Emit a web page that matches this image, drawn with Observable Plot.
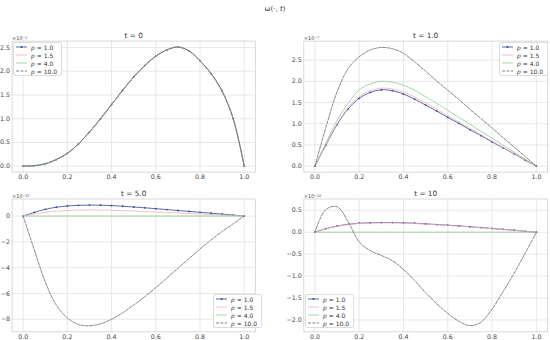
<!DOCTYPE html>
<html><head><meta charset="utf-8">
<script src="https://cdn.jsdelivr.net/npm/d3@7"></script>
<script src="https://cdn.jsdelivr.net/npm/@observablehq/plot@0.6"></script>
<style>
body{margin:0;background:#fff;font-family:"DejaVu Sans",sans-serif;}
#root{position:relative;width:550px;height:340px;overflow:hidden;background:#fff;}
.panel{position:absolute;}
.maintitle{position:absolute;left:0;width:550px;text-align:center;top:5px;font-size:7px;color:#333;}
.legend{position:absolute;background:#fff;border:0.8px solid #ddd;border-radius:2px;padding:0 4px 0 2px;font-size:6px;color:#333;}
.legend .row{height:8px;display:flex;align-items:center;white-space:nowrap;}
.legend svg{margin-right:4px;}
</style></head><body><div id="root"></div>
<script>
// ---- data ----
const xs = [0,0.05,0.1,0.15,0.2,0.25,0.3,0.35,0.4,0.45,0.5,0.55,0.6,0.65,0.7,0.75,0.8,0.85,0.9,0.95,1.0];
const pLabels = ["1.0","1.5","4.0","10.0"];
const xTicks = [0,0.2,0.4,0.6,0.8,1.0];

// t = 0 (all p coincide), x 1e-1
const t0_all = [0,0.01,0.05,0.14,0.27,0.47,0.72,1.0,1.30,1.60,1.88,2.12,2.32,2.45,2.51,2.43,2.22,1.95,1.58,1.0,0];
// t = 1.0, x 1e-7
const t1_p1  = [0,0.5,0.98,1.35,1.6,1.74,1.8,1.78,1.70,1.58,1.44,1.30,1.15,1.01,0.86,0.72,0.57,0.43,0.29,0.14,0];
const t1_p15 = [0,0.51,1.0,1.38,1.64,1.78,1.84,1.82,1.75,1.63,1.49,1.34,1.19,1.04,0.89,0.74,0.59,0.44,0.3,0.15,0];
const t1_p4  = [0,0.55,1.08,1.48,1.80,1.94,2.0,1.98,1.91,1.79,1.64,1.48,1.32,1.15,0.99,0.82,0.66,0.49,0.33,0.16,0];
const t1_p10 = [0,0.92,1.75,2.3,2.58,2.74,2.8,2.77,2.66,2.46,2.24,2.01,1.79,1.57,1.34,1.12,0.9,0.67,0.45,0.22,0];
// t = 5.0, x 1e-10
const t5_p1  = [0,0.28,0.52,0.68,0.78,0.83,0.85,0.84,0.81,0.76,0.70,0.64,0.57,0.5,0.43,0.36,0.29,0.22,0.15,0.07,0];
const t5_p15 = [0,0.15,0.29,0.37,0.43,0.46,0.47,0.46,0.45,0.42,0.39,0.35,0.31,0.28,0.24,0.2,0.16,0.12,0.08,0.04,0];
const t5_p4  = [0,0,0,0,0,0,0,0,0,0,0,0,0,0,0,0,0,0,0,0,0];
const t5_p10 = [0,-2.6,-5.1,-6.9,-7.9,-8.4,-8.5,-8.35,-8.0,-7.5,-6.9,-6.25,-5.55,-4.8,-4.05,-3.3,-2.55,-1.85,-1.2,-0.6,0];
// t = 10, x 1e-12
const t10_p1  = [0,0.08,0.14,0.18,0.205,0.215,0.22,0.22,0.215,0.205,0.19,0.175,0.16,0.145,0.125,0.105,0.085,0.065,0.045,0.02,0];
const t10_p15 = [0,0.078,0.136,0.175,0.2,0.21,0.214,0.214,0.209,0.2,0.185,0.17,0.155,0.14,0.121,0.102,0.082,0.063,0.044,0.02,0];
const t10_p4  = [0,0,0,0,0,0,0,0,0,0,0,0,0,0,0,0,0,0,0,0,0];
const t10_p10 = [0,0.52,0.58,0.24,-0.22,-0.42,-0.53,-0.65,-0.85,-1.1,-1.38,-1.63,-1.85,-2.03,-2.13,-2.05,-1.75,-1.35,-0.93,-0.47,0];

const colors = ["#34429a","#f4b0b7","#8fce92","#666666"];
const dashes = [null,null,null,"3,1.4"];

const fmt1 = d => (d < 0 ? "\u2212" : "") + Math.abs(d).toFixed(1);
const fmt0 = d => (d < 0 ? "\u2212" : "") + Math.abs(d).toFixed(0);

const root = document.getElementById("root");
const mt = document.createElement("div");
mt.className = "maintitle";
mt.innerHTML = "\u03c9(\u00b7, <i>t</i>)";
root.appendChild(mt);

function panel(cfg) {
  const {left, top, width, height, box, yDomain, yTicks, yFmt, title, expo, series, legend} = cfg;
  const marks = [
    Plot.gridX(xTicks, {stroke: "#dedede", strokeOpacity: 1, strokeWidth: 0.7}),
    Plot.gridY(yTicks, {stroke: "#dedede", strokeOpacity: 1, strokeWidth: 0.7}),
    Plot.frame({stroke: "#cfcfcf", strokeWidth: 0.8}),
    Plot.axisX(xTicks, {tickFormat: fmt1, tickSize: 0, tickPadding: 2.5, fill: "#444", label: null}),
    Plot.axisY(yTicks, {tickFormat: yFmt, tickSize: 0, tickPadding: 2, fill: "#444", label: null})
  ];
  series.forEach((vals, k) => {
    const rows = xs.map((x, i) => ({x, y: vals[i]}));
    marks.push(Plot.line(rows, {x: "x", y: "y", stroke: colors[k], strokeWidth: 0.8,
      strokeDasharray: dashes[k], curve: "catmull-rom"}));
    if (k === 0) marks.push(Plot.dot(rows, {x: "x", y: "y", r: 0.9, fill: colors[k], stroke: "none"}));
  });
  marks.push(Plot.text([title], {frameAnchor: "top", dy: -3.5, fontSize: 7.3, fill: "#333", lineAnchor: "bottom"}));
  marks.push(Plot.text([expo], {frameAnchor: "top-left", dy: -1.5, dx: 0, fontSize: 5, fill: "#444", lineAnchor: "bottom", textAnchor: "start"}));
  const svg = Plot.plot({
    width, height,
    marginLeft: box[0] - left, marginRight: left + width - box[1],
    marginTop: box[2] - top, marginBottom: top + height - box[3],
    style: {fontFamily: "DejaVu Sans, sans-serif", fontSize: "6.3px", color: "#444", background: "transparent", overflow: "visible"},
    x: {domain: [-0.05, 1.05], axis: null},
    y: {domain: yDomain, axis: null},
    marks
  });
  const wrap = document.createElement("div");
  wrap.className = "panel";
  wrap.style.left = left + "px";
  wrap.style.top = top + "px";
  wrap.appendChild(svg);
  root.appendChild(wrap);

  const lg = document.createElement("div");
  lg.className = "legend";
  lg.style.left = legend[0] + "px";
  lg.style.top = legend[1] + "px";
  pLabels.forEach((lab, k) => {
    const row = document.createElement("div");
    row.className = "row";
    const dash = dashes[k] ? `stroke-dasharray="${dashes[k]}"` : "";
    const dot = k === 0 ? `<circle cx="5.5" cy="3" r="1" fill="${colors[0]}"/>` : "";
    row.innerHTML = `<svg width="11" height="6"><line x1="0" y1="3" x2="11" y2="3" stroke="${colors[k]}" stroke-width="0.8" ${dash}/>${dot}</svg><span><i>p</i> = ${lab}</span>`;
    lg.appendChild(row);
  });
  root.appendChild(lg);
}

panel({left: 0, top: 26, width: 265, height: 160, box: [11.6, 254.8, 40.6, 171.6],
  yDomain: [-0.125, 2.636], yTicks: [0,0.5,1.0,1.5,2.0,2.5], yFmt: fmt1,
  title: "t = 0", expo: "\u00d710\u207b\u00b9",
  series: [t0_all, t0_all, t0_all, t0_all], legend: [13, 42]});

panel({left: 275, top: 26, width: 275, height: 160, box: [303.3, 547, 40.6, 171.6],
  yDomain: [-0.14, 2.95], yTicks: [0,0.5,1.0,1.5,2.0,2.5], yFmt: fmt1,
  title: "t = 1.0", expo: "\u00d710\u207b\u2077",
  series: [t1_p1, t1_p15, t1_p4, t1_p10], legend: [499, 42]});

panel({left: 0, top: 184, width: 265, height: 156, box: [11.6, 254.8, 198.5, 331.3],
  yDomain: [-8.97, 1.32], yTicks: [-8,-6,-4,-2,0], yFmt: fmt0,
  title: "t = 5.0", expo: "\u00d710\u207b\u00b9\u2070",
  series: [t5_p1, t5_p15, t5_p4, t5_p10], legend: [213, 294]});

panel({left: 275, top: 184, width: 275, height: 156, box: [303.3, 547, 198.5, 331.3],
  yDomain: [-2.27, 0.757], yTicks: [-2.0,-1.5,-1.0,-0.5,0,0.5], yFmt: fmt1,
  title: "t = 10", expo: "\u00d710\u207b\u00b9\u00b2",
  series: [t10_p1, t10_p15, t10_p4, t10_p10], legend: [305, 294]});
</script>
</body></html>
